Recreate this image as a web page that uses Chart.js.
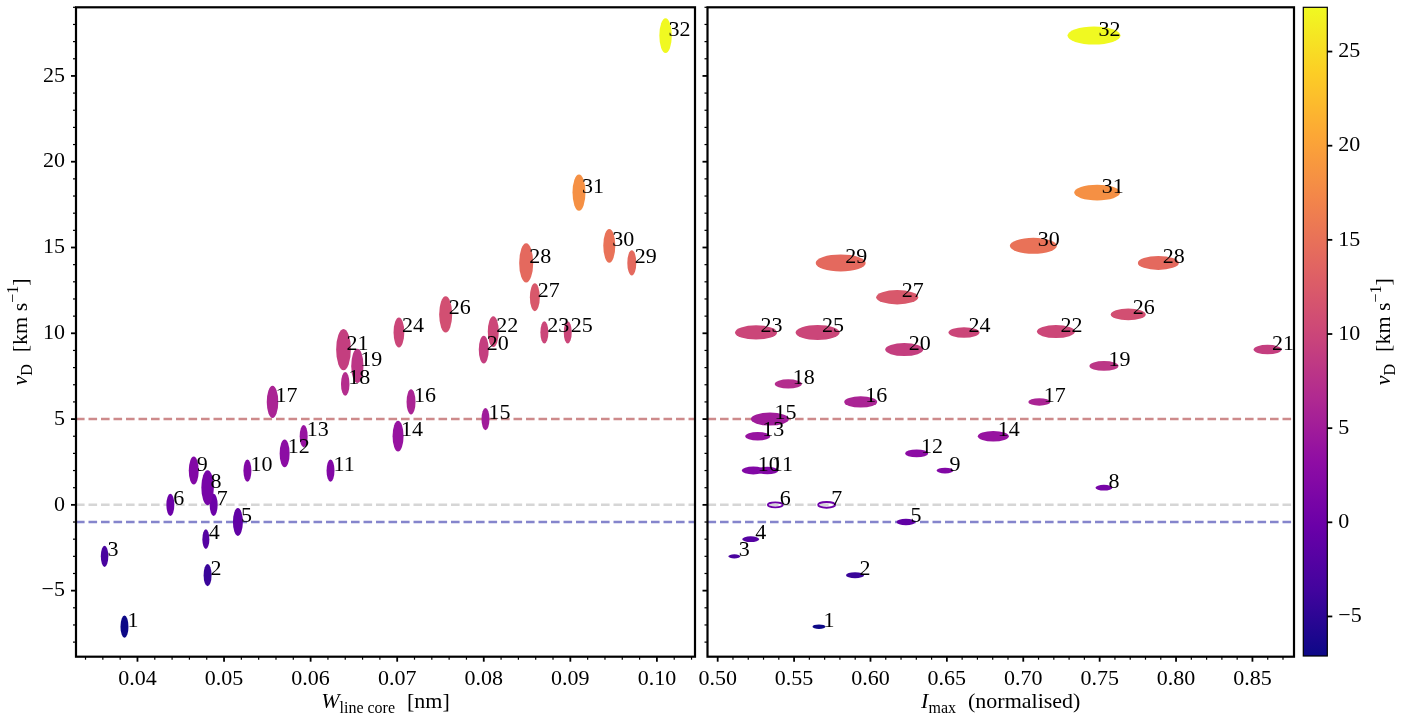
<!DOCTYPE html>
<html lang="en">
<head>
<meta charset="UTF-8">
<title>Doppler velocity vs. line-core width and peak intensity</title>
<script src="https://cdn.jsdelivr.net/npm/chart.js@4"></script>
<style>
    body { margin: 0; background: #ffffff; }
    .stage { position: relative; width: 1422px; height: 717px; }
    .stage canvas { position: absolute; left: 0; top: 0; }
</style>
</head>
<body>
<div class="stage">
    <canvas id="widthChart" width="1422" height="717"></canvas>
    <canvas id="intensityChart" width="1422" height="717"></canvas>
    <canvas id="colorbar" width="1422" height="717"></canvas>
</div>

<script>
// event numbers and measured quantities
const ids = [1, 2, 3, 4, 5, 6, 7, 8, 9, 10, 11, 12, 13, 14, 15, 16,
             17, 18, 19, 20, 21, 22, 23, 24, 25, 26, 27, 28, 29, 30, 31, 32];
// Doppler velocity, km/s
const vDopp = [-7.1, -4.1, -3.0, -2.0, -1.0, 0.0, 0.0, 1.0, 2.0, 2.0, 2.0, 3.0, 4.0, 4.0, 5.0, 6.0,
               6.0, 7.05, 8.1, 9.05, 9.05, 10.1, 10.05, 10.05, 10.05, 11.1, 12.1, 14.1, 14.1, 15.1, 18.2, 27.35];
// line core width, nm
const wCore = [0.0385, 0.0481, 0.0362, 0.0479, 0.0516, 0.0438, 0.0488, 0.0481, 0.0465, 0.0527, 0.0623, 0.0570, 0.0592, 0.0701, 0.0802, 0.0716,
               0.0556, 0.0640, 0.0654, 0.0800, 0.0638, 0.0811, 0.0870, 0.0702, 0.0897, 0.0756, 0.0859, 0.0849, 0.0971, 0.0945, 0.0910, 0.1010];
// peak intensity, normalised
const iMax = [0.5663, 0.5899, 0.5109, 0.5216, 0.6232, 0.5377, 0.5713, 0.7528, 0.6488, 0.5233, 0.5325, 0.6302, 0.5262, 0.6804, 0.5342, 0.5936,
              0.7105, 0.5462, 0.7528, 0.6221, 0.8599, 0.7214, 0.5251, 0.6612, 0.5654, 0.7687, 0.6175, 0.7884, 0.5805, 0.7066, 0.7484, 0.7463];
// spread of each measurement (full ellipse width along x)
const wSpread = [0.00092, 0.00092, 0.00087, 0.00081, 0.00115, 0.00092, 0.00092, 0.00144, 0.00115, 0.00092, 0.00092, 0.00115, 0.00092, 0.00127, 0.00092, 0.00104,
                 0.00133, 0.00098, 0.00142, 0.00115, 0.00170, 0.00127, 0.00092, 0.00124, 0.00092, 0.00150, 0.00115, 0.00162, 0.00104, 0.00139, 0.00150, 0.00144];
const iSpread = [0.0085, 0.0118, 0.0079, 0.0111, 0.0124, 0.0098, 0.0111, 0.0111, 0.0111, 0.0151, 0.0144, 0.0151, 0.0164, 0.0203, 0.0249, 0.0216,
                 0.0144, 0.0177, 0.0190, 0.0249, 0.0183, 0.0249, 0.0275, 0.0203, 0.0288, 0.0229, 0.0275, 0.0268, 0.0327, 0.0308, 0.0301, 0.0347];
// events drawn as open ellipses in the intensity panel
const openIntensity = [6, 7];
// reference velocities (dashed)
const refLevels = [5, 0, -1];
const refColors = ['#cd8a8b', '#d6d6d6', '#8585cc'];

const SERIF = '"Liberation Serif", "Times New Roman", serif';
const FS = 22;       // main text size
const FS_SMALL = 16; // sub/superscripts
Chart.defaults.font.family = SERIF;
Chart.defaults.font.size = FS;
Chart.defaults.color = '#000';

const vMin = Math.min(...vDopp);
const vMax = Math.max(...vDopp);

// plasma colormap, sampled every 0.1
const PLASMA = [[13, 8, 135], [65, 4, 157], [106, 0, 168], [143, 13, 164], [177, 42, 144], [204, 71, 120],
                [225, 100, 98], [242, 132, 75], [252, 166, 54], [252, 206, 37], [240, 249, 33]];
function plasma(t) {
    t = Math.min(1, Math.max(0, t)) * 10;
    const i = Math.min(9, Math.floor(t));
    const f = t - i;
    const a = PLASMA[i], b = PLASMA[i + 1];
    return 'rgb(' + a.map((c, k) => Math.round(c + (b[k] - c) * f)).join(',') + ')';
}
const velColor = v => plasma((v - vMin) / (vMax - vMin));

function tickList(min, max, step) {
    const out = [];
    for (let k = Math.ceil(min / step - 1e-9); k * step <= max + 1e-12; k++) out.push(+(k * step).toFixed(6));
    return out;
}
const isMultiple = (v, step) => Math.abs(v / step - Math.round(v / step)) < 1e-6;
const fmtInt = v => String(Math.round(v)).replace('-', '\u2212');
const fmt2 = v => v.toFixed(2);

// linear axis with its own minor/major ticks; size fixed so both panels line up
function makeAxis({ position, min, max, minor, major, labels, fmt, size }) {
    const horizontal = position === 'bottom';
    return {
        type: 'linear', position, min, max, bounds: 'data',
        grid: { display: false, drawTicks: true, tickLength: 5 },
        border: { display: false },
        ticks: {
            autoSkip: false, maxRotation: 0, minRotation: 0, padding: horizontal ? 4 : 6,
            callback: v => (labels && isMultiple(v, major)) ? fmt(v) : ''
        },
        afterBuildTicks: s => { s.ticks = tickList(min, max, minor).map(value => ({ value })); },
        afterFit: s => {
            if (horizontal) s.height = size; else s.width = size;
            s.paddingTop = s.paddingBottom = s.paddingLeft = s.paddingRight = 0;
        }
    };
}

// text with italic symbols and sub/superscripts, centred on (x, y)
function richText(ctx, parts, x, y, angle) {
    const fontOf = p => (p.it ? 'italic ' : '') + ((p.sub || p.sup) ? FS_SMALL : FS) + 'px ' + SERIF;
    ctx.save();
    ctx.translate(x, y);
    ctx.rotate(angle || 0);
    ctx.fillStyle = '#000';
    ctx.textBaseline = 'alphabetic';
    ctx.textAlign = 'left';
    const widths = parts.map(p => { ctx.font = fontOf(p); return ctx.measureText(p.t || '').width + (p.gap || 0); });
    let cx = -widths.reduce((s, w) => s + w, 0) / 2;
    parts.forEach((p, i) => {
        ctx.font = fontOf(p);
        if (p.t) ctx.fillText(p.t, cx, p.sub ? 5 : p.sup ? -9 : 0);
        cx += widths[i];
    });
    ctx.restore();
}

const vLabel = [{ t: 'v', it: true }, { t: 'D', sub: true }, { gap: 12 }, { t: '[km s' }, { t: '\u22121', sup: true }, { t: ']' }];

function drawTickMarks(ctx, scale, side, major) {
    const a = scale.chart.chartArea;
    ctx.save();
    ctx.strokeStyle = '#000';
    scale.ticks.forEach(t => {
        const big = isMultiple(t.value, major);
        const len = big ? 5 : 3;
        const p = scale.getPixelForValue(t.value);
        ctx.lineWidth = big ? 1.8 : 1.2;
        ctx.beginPath();
        if (side === 'left') { ctx.moveTo(a.left, p); ctx.lineTo(a.left - len, p); }
        if (side === 'right') { ctx.moveTo(a.right, p); ctx.lineTo(a.right + len, p); }
        if (side === 'bottom') { ctx.moveTo(p, a.bottom); ctx.lineTo(p, a.bottom + len); }
        ctx.stroke();
    });
    ctx.restore();
}

function panelPlugin(cfg) {
    return {
        id: 'panelDecor',
        beforeDatasetsDraw(chart) {
            const { ctx, chartArea: a, scales: { y } } = chart;
            ctx.save();
            ctx.lineWidth = 2.5;
            ctx.setLineDash([8.6, 3.9]);
            refLevels.forEach((lv, k) => {
                const py = y.getPixelForValue(lv);
                ctx.strokeStyle = refColors[k];
                ctx.beginPath(); ctx.moveTo(a.left, py); ctx.lineTo(a.right, py); ctx.stroke();
            });
            ctx.restore();
        },
        afterDatasetsDraw(chart) {
            const { ctx, scales: { x } } = chart;
            const pts = chart.data.datasets[0].data;
            const meta = chart.getDatasetMeta(0);
            ctx.save();
            meta.data.forEach((el, i) => {
                const rx = Math.abs(x.getPixelForValue(pts[i].x + cfg.spread[i] / 2) - el.x);
                const ry = rx * cfg.aspect;
                const col = velColor(pts[i].y);
                ctx.beginPath();
                ctx.ellipse(el.x, el.y, rx, ry, 0, 0, Math.PI * 2);
                if (cfg.open.includes(ids[i])) {
                    ctx.lineWidth = 1.8; ctx.strokeStyle = col; ctx.stroke();
                } else {
                    ctx.fillStyle = col; ctx.fill();
                }
            });
            ctx.fillStyle = '#000';
            ctx.font = FS + 'px ' + SERIF;
            ctx.textBaseline = 'alphabetic';
            meta.data.forEach((el, i) => ctx.fillText(String(ids[i]), el.x + cfg.labelDx, el.y));
            ctx.restore();
        },
        afterDraw(chart) {
            const { ctx, chartArea: a, scales: { x, y } } = chart;
            ctx.save();
            ctx.strokeStyle = '#000';
            ctx.lineWidth = 2.2;
            ctx.strokeRect(a.left, a.top, a.right - a.left, a.bottom - a.top);
            ctx.restore();
            drawTickMarks(ctx, x, 'bottom', cfg.xMajor);
            drawTickMarks(ctx, y, 'left', 5);
            richText(ctx, cfg.xTitle, (a.left + a.right) / 2, 708);
            if (cfg.yTitle) richText(ctx, vLabel, 27, (a.top + a.bottom) / 2, -Math.PI / 2);
        }
    };
}

function panel(canvasId, xs, xAxis, plugin, padding) {
    return new Chart(document.getElementById(canvasId), {
        type: 'scatter',
        data: {
            datasets: [{
                data: xs.map((xv, i) => ({ x: xv, y: vDopp[i] })),
                pointRadius: 0, pointHoverRadius: 0, showLine: false
            }]
        },
        options: {
            responsive: false, animation: false, events: [],
            layout: { padding },
            plugins: { legend: { display: false }, tooltip: { enabled: false } },
            scales: {
                x: xAxis,
                y: makeAxis({ position: 'left', min: -8.85, max: 29.0, minor: 1, major: 5,
                              labels: plugin.showY, fmt: fmtInt, size: plugin.yWidth })
            }
        },
        plugins: [panelPlugin(plugin)]
    });
}

// left panel: line core width
panel('widthChart', wCore,
    makeAxis({ position: 'bottom', min: 0.0329, max: 0.1044, minor: 0.002, major: 0.01, labels: true, fmt: fmt2, size: 60.3 }),
    { spread: wSpread, aspect: 2.8, labelDx: 3, open: [], xMajor: 0.01, showY: true, yWidth: 76, yTitle: true,
      xTitle: [{ t: 'W', it: true }, { t: 'line core', sub: true }, { gap: 12 }, { t: '[nm]' }] },
    { left: 0, top: 7.3, right: 1422 - 695, bottom: 0 });

// right panel: peak intensity, shares the velocity axis
panel('intensityChart', iMax,
    makeAxis({ position: 'bottom', min: 0.49333, max: 0.8772, minor: 0.01, major: 0.05, labels: true, fmt: fmt2, size: 60.3 }),
    { spread: iSpread, aspect: 0.34, labelDx: 4.5, open: openIntensity, xMajor: 0.05, showY: false, yWidth: 60, yTitle: false,
      xTitle: [{ t: 'I', it: true }, { t: 'max', sub: true }, { gap: 12 }, { t: '(normalised)' }] },
    { left: 707.5 - 60, top: 7.3, right: 1422 - 1294, bottom: 0 });

// colour bar for the Doppler velocity
new Chart(document.getElementById('colorbar'), {
    type: 'scatter',
    data: { datasets: [] },
    options: {
        responsive: false, animation: false, events: [],
        layout: { padding: { left: 1303.3, top: 7.3, right: 0, bottom: 717 - 656 } },
        plugins: { legend: { display: false }, tooltip: { enabled: false } },
        scales: {
            x: { display: false, min: 0, max: 1 },
            y: makeAxis({ position: 'right', min: vMin, max: vMax, minor: 5, major: 5, labels: true, fmt: fmtInt, size: 1422 - 1327.3 })
        }
    },
    plugins: [{
        id: 'colorbarFill',
        beforeDraw(chart) {
            const { ctx, chartArea: a, scales: { y } } = chart;
            const y0 = y.getPixelForValue(vMin), y1 = y.getPixelForValue(vMax);
            const g = ctx.createLinearGradient(0, y0, 0, y1);
            PLASMA.forEach((c, i) => g.addColorStop(i / 10, 'rgb(' + c.join(',') + ')'));
            ctx.save();
            ctx.fillStyle = g;
            ctx.fillRect(a.left, a.top, a.right - a.left, a.bottom - a.top);
            ctx.restore();
        },
        afterDraw(chart) {
            const { ctx, chartArea: a, scales: { y } } = chart;
            ctx.save();
            ctx.strokeStyle = '#000';
            ctx.lineWidth = 1.2;
            ctx.strokeRect(a.left, a.top, a.right - a.left, a.bottom - a.top);
            ctx.restore();
            drawTickMarks(ctx, y, 'right', 5);
            richText(ctx, vLabel, 1390, (a.top + a.bottom) / 2, -Math.PI / 2);
        }
    }]
});
</script>
</body>
</html>
